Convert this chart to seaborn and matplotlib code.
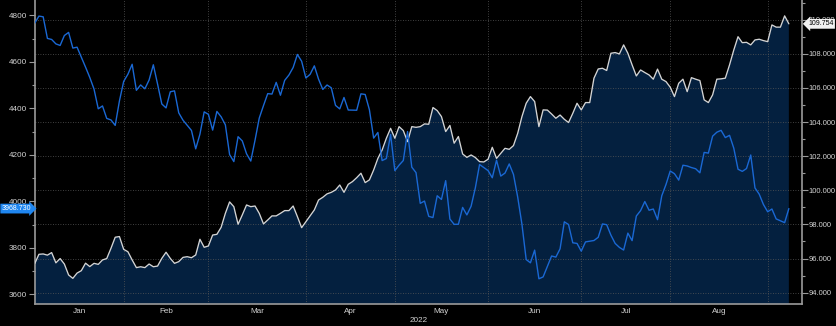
import numpy as np
import pandas as pd
import matplotlib
matplotlib.use("Agg")
import matplotlib.pyplot as plt
from matplotlib import font_manager, transforms
from matplotlib.ticker import FixedLocator, MultipleLocator, FormatStrFormatter, NullFormatter
import seaborn as sns

# ---------------- data ----------------
start_date = "2021-12-31"
end_date = "2022-09-07"
nyse_holidays = ["2022-01-17", "2022-02-21", "2022-04-15", "2022-05-30",
                 "2022-06-20", "2022-07-04", "2022-09-05"]

# S&P 500 index (left axis), trading days only
spx_close = [
    4766.18,
    4796.56, 4793.54, 4700.58, 4696.05, 4677.03, 4670.29, 4713.07, 4726.35, 4659.03, 4662.85,
    4577.11, 4532.76, 4482.73, 4397.94, 4410.13, 4356.45, 4349.93, 4326.51, 4431.85, 4515.55,
    4546.54, 4589.38, 4477.44, 4500.53, 4483.87, 4521.54, 4587.18, 4504.08, 4418.64, 4401.67,
    4471.07, 4475.01, 4380.26, 4348.87, 4304.76, 4225.50, 4288.70, 4384.65, 4373.94,
    4306.26, 4386.54, 4363.49, 4328.87, 4201.09, 4170.70, 4277.88, 4259.52, 4204.31, 4173.11,
    4262.45, 4357.86, 4411.67, 4463.12, 4461.18, 4511.61, 4456.24, 4520.16, 4543.06, 4575.52,
    4631.60, 4602.45, 4530.41,
    4545.86, 4582.64, 4525.12, 4481.15, 4500.21, 4488.28, 4412.53, 4397.45, 4446.59, 4392.59,
    4391.69, 4462.21, 4459.45, 4393.66, 4271.78, 4296.12, 4175.20, 4183.96, 4287.50, 4131.93,
    4155.38, 4175.48, 4300.17, 4146.87, 4123.34, 3991.24, 4001.05, 3935.18, 3930.08, 4023.89,
    4008.01, 4088.85, 3923.68, 3900.79, 3901.36, 3973.75, 3941.48, 3978.73, 4057.84, 4158.24,
    4132.15,
    4101.23, 4176.82, 4108.54, 4121.43, 4160.68, 4115.77, 4017.82, 3900.86, 3749.63, 3735.48,
    3789.99, 3666.77, 3674.84, 3764.79, 3759.89, 3795.73, 3911.74, 3900.11, 3821.55, 3818.83,
    3785.38,
    3825.33, 3831.39, 3845.08, 3902.62, 3899.38, 3854.43, 3818.80, 3801.78, 3790.38, 3863.16,
    3830.85, 3936.69, 3959.90, 3998.95, 3961.63, 3966.84, 3921.05, 4023.61, 4072.43, 4130.29,
    4118.63, 4091.19, 4155.17, 4151.94, 4145.19, 4140.06, 4122.47, 4210.24, 4207.27, 4280.15,
    4297.14, 4305.20, 4274.04, 4283.74, 4228.48, 4137.99, 4128.73, 4140.77, 4199.12, 4057.66,
    4030.61, 3986.16, 3955.00,
    3966.85, 3924.26, 3908.19, 3968.73,
]

# US dollar index (right axis), every weekday
dxy_close = [
    95.70,
    96.25, 96.27, 96.20, 96.35, 95.75, 96.00, 95.68, 95.04, 94.84, 95.15,
    95.29, 95.73, 95.53, 95.72, 95.66, 95.92, 96.00, 96.60, 97.25, 97.29,
    96.54,
    96.40, 95.92, 95.47, 95.52, 95.47, 95.68, 95.52, 95.56, 96.01, 96.37,
    96.01, 95.72, 95.82, 96.07, 96.11, 96.05, 96.21, 97.13, 96.66, 96.74,
    97.38, 97.42, 97.83, 98.65, 99.32, 99.04, 98.01, 98.56, 99.14, 99.04,
    99.08, 98.65, 98.03, 98.26, 98.50, 98.50, 98.65, 98.81, 98.81, 99.08,
    98.46, 97.81, 98.16,
    98.50, 98.85, 99.43, 99.59, 99.79, 99.88, 100.02, 100.31, 99.88, 100.35,
    100.51, 100.74, 101.00, 100.45, 100.61, 101.19, 101.87, 102.36, 103.05, 103.63,
    103.05,
    103.73, 103.50, 102.85, 103.73, 103.69, 103.73, 103.89, 103.87, 104.85, 104.67,
    104.32, 103.44, 103.80, 102.76, 103.15, 102.13, 101.93, 102.07, 101.92, 101.68,
    101.66, 101.82,
    102.52, 101.87, 102.17, 102.46, 102.40, 102.62, 103.34, 104.32, 105.10, 105.49,
    105.20, 103.73, 104.71, 104.70, 104.47, 104.22, 104.41, 104.16, 103.97, 104.51,
    105.10, 104.71,
    105.14, 105.14, 106.57, 107.11, 107.15, 107.02, 108.03, 108.07, 107.99, 108.52,
    108.03, 107.35, 106.70, 107.05, 106.90, 106.76, 106.51, 107.10, 106.51, 106.37,
    106.04,
    105.49, 106.27, 106.51, 105.78, 106.60, 106.51, 106.43, 105.30, 105.14, 105.59,
    106.51, 106.53, 106.57, 107.35, 108.22, 109.00, 108.65, 108.67, 108.52, 108.81,
    108.85, 108.77, 108.71,
    109.69, 109.56, 109.56, 110.22, 109.754,
]

month_names = ["Jan", "Feb", "Mar", "Apr", "May", "Jun", "Jul", "Aug"]
year_label = "2022"
spx_ticks = [3600, 3800, 4000, 4200, 4400, 4600, 4800]
dxy_ticks = [94, 96, 98, 100, 102, 104, 106, 108, 110]

# ---------------- styling ----------------
BG = "#000000"
FILL = "#04203f"
DXY_LINE = "#d4d4d4"
SPX_LINE = "#1a68d4"
GRID = "#575757"
SPINE = "#9a9a9a"
TXT = "#d2d2d2"

sns.set_style("dark", rc={
    "axes.facecolor": BG, "figure.facecolor": BG,
    "axes.edgecolor": SPINE, "text.color": TXT,
    "xtick.color": SPINE, "ytick.color": SPINE,
    "axes.labelcolor": TXT,
})
installed = {f.name for f in font_manager.fontManager.ttflist}
families = [f for f in ["Liberation Sans"] if f in installed] + ["DejaVu Sans"]
plt.rcParams["font.family"] = families
FS = 5.9
RIGHT_FS = 5.5
TAG_FS = 5.0

# weekday positions on the time axis
origin = np.datetime64(start_date)
dxy_dates = pd.bdate_range(start_date, end_date)
spx_dates = dxy_dates.drop(pd.to_datetime(nyse_holidays))
dxy_x = np.busday_count(origin, dxy_dates.values.astype("datetime64[D]"))
spx_x = np.busday_count(origin, spx_dates.values.astype("datetime64[D]"))

try:
    month_ends = pd.bdate_range(start_date, end_date, freq="BME")
except ValueError:
    month_ends = pd.bdate_range(start_date, end_date, freq="BM")
month_end_x = np.busday_count(origin, month_ends.values.astype("datetime64[D]"))
month_end_x = month_end_x[month_end_x > 0]
bounds = np.concatenate([[0], month_end_x])
month_mid_x = (bounds[:-1] + bounds[1:]) / 2.0

dxy_df = pd.DataFrame({"x": dxy_x, "dxy": dxy_close})
spx_df = pd.DataFrame({"x": spx_x, "spx": spx_close})

fig = plt.figure(figsize=(8.36, 3.26), dpi=100)
ax = fig.add_axes([34.7 / 836, 1 - 304.3 / 326, (802 - 34.7) / 836, 304.3 / 326])
ax.set_axisbelow("line")

# dollar index: filled area with light outline
ax.fill_between(dxy_df["x"], dxy_df["dxy"], 80, color=FILL, linewidth=0, zorder=1)
sns.lineplot(data=dxy_df, x="x", y="dxy", ax=ax, color=DXY_LINE, linewidth=0.95, zorder=3)
ax.set_ylim(93.32, 111.15)
ax.set_xlim(0, 181.1)

# S&P 500 on the twin axis, ticks moved to the left
ax2 = ax.twinx()
sns.lineplot(data=spx_df, x="x", y="spx", ax=ax2, color=SPX_LINE, linewidth=1.0, zorder=3)
ax2.set_ylim(3557.0, 4865.8)
ax2.set_xlim(0, 181.1)
ax2.yaxis.tick_left()
ax2.yaxis.set_label_position("left")

for a in (ax, ax2):
    a.set_xlabel("")
    a.set_ylabel("")
    for s in a.spines.values():
        s.set_visible(False)
for k in ("left", "right", "bottom"):
    ax.spines[k].set_visible(True)
    ax.spines[k].set_color(SPINE)
    ax.spines[k].set_linewidth(1.2)

# right axis (dollar index)
ax.yaxis.tick_right()
ax.yaxis.set_major_locator(FixedLocator(dxy_ticks))
ax.yaxis.set_minor_locator(MultipleLocator(1))
ax.yaxis.set_major_formatter(FormatStrFormatter("%.3f"))
ax.tick_params(axis="y", which="major", direction="out", length=4, width=0.8,
               color=SPINE, labelcolor=TXT, labelsize=RIGHT_FS, pad=1.0)
ax.tick_params(axis="y", which="minor", direction="out", length=2.5, width=0.8, color=SPINE)

# left axis (S&P 500)
ax2.yaxis.set_major_locator(FixedLocator(spx_ticks))
ax2.yaxis.set_minor_locator(MultipleLocator(100))
ax2.yaxis.set_major_formatter(FormatStrFormatter("%d"))
ax2.tick_params(axis="y", which="major", direction="out", length=4, width=0.8,
                color=SPINE, labelcolor=TXT, labelsize=FS, pad=1.5)
ax2.tick_params(axis="y", which="minor", direction="out", length=2.5, width=0.8, color=SPINE)
ax2.tick_params(axis="x", which="both", bottom=False, labelbottom=False)

# x axis: ticks at month ends, month names centred in each month
ax.set_xticks(bounds)
ax.xaxis.set_major_formatter(NullFormatter())
ax.set_xticks(month_mid_x, labels=month_names, minor=True)
ax.tick_params(axis="x", which="major", direction="out", length=3, width=0.8, color=SPINE)
ax.tick_params(axis="x", which="minor", length=0, labelcolor=TXT, labelsize=FS, pad=2.6)
ax.set_xlabel(year_label, fontsize=FS, color=TXT, labelpad=1.2)

# dotted grid: horizontal at dollar index ticks, vertical at month ends
ax.grid(False)
ax2.grid(False)
for v in dxy_ticks:
    ax.axhline(v, color=GRID, linewidth=0.6, linestyle=(0, (1, 2)), zorder=1.5)
for v in month_end_x:
    ax.axvline(v, color=GRID, linewidth=0.6, linestyle=(0, (1, 2)), zorder=1.5)

# last-value tags on both axes
spx_last = spx_close[-1]
dxy_last = dxy_close[-1]
tr_left = transforms.blended_transform_factory(ax2.transAxes, ax2.transData)
ax2.text(-0.0045, spx_last, f"{spx_last:.3f}", transform=tr_left, ha="right", va="center",
         fontsize=TAG_FS, color="#ffffff", clip_on=False, zorder=10,
         bbox=dict(boxstyle="rarrow,pad=0.2", fc="#1f86f0", ec="none"))
tr_right = transforms.blended_transform_factory(ax.transAxes, ax.transData)
ax.text(1.008, dxy_last, f"{dxy_last:.3f}", transform=tr_right, ha="left", va="center",
        fontsize=TAG_FS, color="#000000", clip_on=False, zorder=10,
        bbox=dict(boxstyle="larrow,pad=0.2", fc="#f2f2f2", ec="none"))

fig.savefig("out.png", dpi=100, facecolor=BG)
